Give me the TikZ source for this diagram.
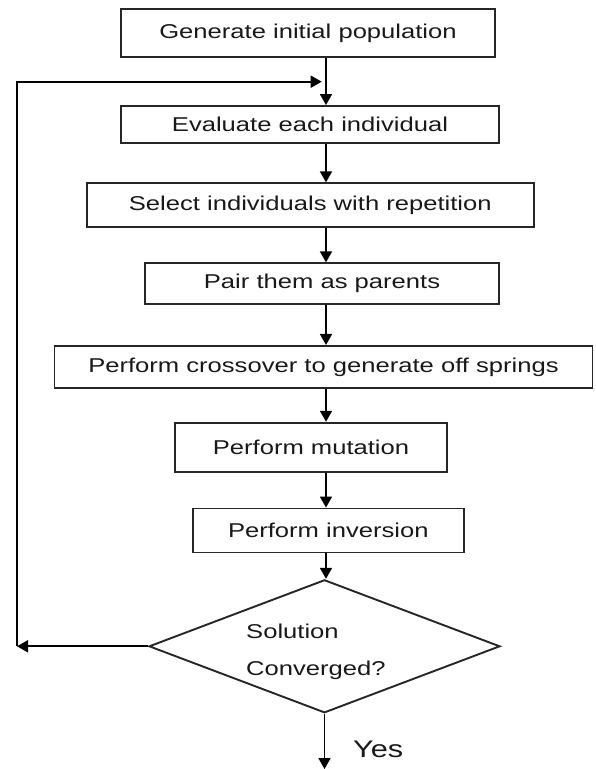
\documentclass[tikz,border=0pt]{standalone}
\usepackage{fontspec}
\usetikzlibrary{arrows.meta,shapes.geometric}
\newfontfamily\boxfont{Liberation Sans}[FakeStretch=1.28]
\begin{document}
\begin{tikzpicture}[x=1pt,y=-1pt,
  stepbox/.style={draw=black!85,line width=1.9pt,rectangle,inner sep=0pt,
    font=\boxfont\fontsize{20}{24}\selectfont,text=black!90},
  arr/.style={line width=1.8pt,-{Triangle[width=12pt,length=11pt]}}]
\useasboundingbox (0,0) rectangle (595,769);
\coordinate (ax) at (326,0);
\node[stepbox,minimum width=374pt,minimum height=48pt] (b1) at (308,33) {Generate initial population};
\node[stepbox,minimum width=378pt,minimum height=37pt] (b2) at (310,124.5) {Evaluate each individual};
\node[stepbox,minimum width=447pt,minimum height=44pt] (b3) at (310.3,205.3) {Select individuals with repetition};
\node[stepbox,minimum width=354pt,minimum height=41pt] (b4) at (322,283.8) {Pair them as parents};
\node[stepbox,minimum width=538pt,minimum height=42pt] (b5) at (323.5,366.9) {Perform crossover to generate off springs};
\node[stepbox,minimum width=272pt,minimum height=49pt] (b6) at (311,447.2) {Perform mutation};
\node[stepbox,minimum width=271pt,minimum height=44pt] (b7) at (328.3,530.5) {Perform inversion};
\node[draw=black!85,line width=1.9pt,diamond,minimum width=351pt,minimum height=133pt,inner sep=0pt] (dia) at (324.5,646.3) {};
\node[anchor=west,align=left,inner sep=0pt,font=\boxfont\fontsize{20}{37}\selectfont,text=black!90] (dtext) at (246,651.5) {Solution\\Converged?};
\node[anchor=west,inner sep=0pt,font=\boxfont\fontsize{24}{28}\selectfont,text=black!90] (yes) at (353,749) {Yes};
\coordinate (loopL) at (17,646.3);
\coordinate (loopJ) at (321.7,81.7);
\coordinate (endpt) at (323,769);
\draw[arr] (b1.south -| ax) -- (b2.north -| ax);
\draw[arr] (b2.south -| ax) -- (b3.north -| ax);
\draw[arr] (b3.south -| ax) -- (b4.north -| ax);
\draw[arr] (b4.south -| ax) -- (b5.north -| ax);
\draw[arr] (b5.south -| ax) -- (b6.north -| ax);
\draw[arr] (b6.south -| ax) -- (b7.north -| ax);
\draw[arr] (b7.south -| ax) -- (dia.north -| ax);
\draw[arr] (dia.west) -- (loopL);
\draw[arr] (loopL) |- (loopJ);
\draw[arr] (dia.south) -- (dia.south |- endpt);
\end{tikzpicture}
\end{document}
